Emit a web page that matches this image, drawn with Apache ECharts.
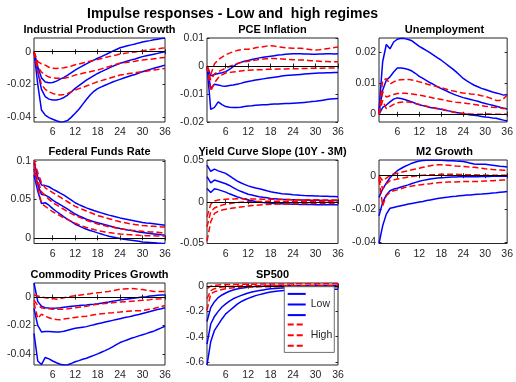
<!DOCTYPE html>
<html><head><meta charset="utf-8">
<script src="https://cdn.jsdelivr.net/npm/echarts@6/dist/echarts.min.js"></script>
<style>html,body{margin:0;padding:0;background:#fff}#c{width:516px;height:382px}</style>
</head><body><div id="c"></div>
<script>
const horizons = [1,2,3,4,5,6,7,8,9,10,11,12,13,14,15,16,17,18,19,20,21,22,23,24,25,26,27,28,29,30,31,32,33,34,35,36];
const xTicks = [6,12,18,24,30,36];
const mainTitle = 'Impulse responses - Low and  high regimes';
const panelTitles = ['Industrial Production Growth','PCE Inflation','Unemployment','Federal Funds Rate','Yield Curve Slope (10Y - 3M)','M2 Growth','Commodity Prices Growth','SP500'];
const yTicks = [[-0.04,-0.02,0],[-0.02,-0.01,0,0.01],[0,0.01,0.02],[0,0.05,0.1],[-0.05,0,0.05],[-0.04,-0.02,0],[-0.04,-0.02,0],[-0.6,-0.4,-0.2,0]];
const yRanges = [[-0.043,0.0084],[-0.02,0.01],[-0.0025,0.0247],[-0.0073,0.1013],[-0.05,0.05],[-0.0406,0.0094],[-0.0478,0.0099],[-0.625,0.025]];
const seriesNames = ['Low band upper','Low','Low band lower','High band upper','High','High band lower'];

// Industrial Production Growth
const ipLowUp = [0,-0.009,-0.016,-0.0185,-0.019,-0.0188,-0.018,-0.0168,-0.0157,-0.0143,-0.0128,-0.0112,-0.0099,-0.0086,-0.0074,-0.0062,-0.0051,-0.004,-0.003,-0.0019,-0.0008,0.0004,0.0014,0.0024,0.003,0.0036,0.0042,0.0047,0.0054,0.006,0.0064,0.0068,0.0073,0.0077,0.0081,0.0084];
const ipLowMed = [0,-0.012,-0.023,-0.0275,-0.029,-0.0295,-0.0295,-0.029,-0.028,-0.0265,-0.0245,-0.0224,-0.0207,-0.019,-0.0174,-0.016,-0.0146,-0.0133,-0.0122,-0.0111,-0.01,-0.009,-0.008,-0.0071,-0.0064,-0.0057,-0.005,-0.0044,-0.0037,-0.003,-0.0025,-0.002,-0.0015,-0.001,-0.0005,0];
const ipLowLo = [0,-0.02,-0.0357,-0.0388,-0.0403,-0.0413,-0.0422,-0.043,-0.0428,-0.042,-0.04,-0.0377,-0.0352,-0.0322,-0.0292,-0.0265,-0.0242,-0.0226,-0.0215,-0.0205,-0.0195,-0.0185,-0.0177,-0.0169,-0.0161,-0.0153,-0.0146,-0.0139,-0.013,-0.0122,-0.0115,-0.0108,-0.0101,-0.0095,-0.0089,-0.0082];
const ipHighUp = [0,-0.006,-0.0075,-0.0082,-0.0095,-0.0101,-0.0103,-0.0101,-0.0098,-0.0093,-0.0087,-0.008,-0.0075,-0.0069,-0.0064,-0.0058,-0.0052,-0.0047,-0.0041,-0.0035,-0.003,-0.0025,-0.002,-0.0014,-0.0011,-0.0007,-0.0004,-0.0001,0.0003,0.0006,0.0009,0.0012,0.0015,0.0018,0.0021,0.0024];
const ipHighMed = [0,-0.009,-0.0125,-0.0143,-0.0155,-0.016,-0.0162,-0.0163,-0.0162,-0.0158,-0.0151,-0.0143,-0.0138,-0.0132,-0.0127,-0.0122,-0.0117,-0.0112,-0.0105,-0.0098,-0.0091,-0.0084,-0.0077,-0.0071,-0.0068,-0.0064,-0.0061,-0.0058,-0.0054,-0.0051,-0.0048,-0.0046,-0.0043,-0.004,-0.0037,-0.0035];
const ipHighLo = [0,-0.012,-0.02,-0.023,-0.0245,-0.0255,-0.0262,-0.0265,-0.0262,-0.0255,-0.0245,-0.0235,-0.0226,-0.0218,-0.021,-0.0201,-0.0192,-0.0184,-0.0177,-0.017,-0.0163,-0.0156,-0.0149,-0.0143,-0.0139,-0.0135,-0.0131,-0.0128,-0.0125,-0.0122,-0.0119,-0.0115,-0.0112,-0.0109,-0.0105,-0.0102];

// PCE Inflation
const pceLowUp = [0,-0.0035,-0.003,-0.0027,-0.0024,-0.002,-0.0012,-0.0002,0.0008,0.0013,0.0017,0.002,0.0023,0.0026,0.0029,0.0031,0.0033,0.0035,0.0037,0.0039,0.004,0.0042,0.0043,0.0044,0.0044,0.0044,0.0043,0.0043,0.0042,0.0042,0.0043,0.0043,0.0044,0.0044,0.0043,0.0044];
const pceLowMed = [0,-0.008,-0.0065,-0.0068,-0.0071,-0.0072,-0.007,-0.0068,-0.0065,-0.0062,-0.0058,-0.0055,-0.0053,-0.005,-0.0048,-0.0046,-0.0044,-0.0042,-0.004,-0.0038,-0.0036,-0.0034,-0.0033,-0.0032,-0.0031,-0.003,-0.0029,-0.0028,-0.0027,-0.0026,-0.0025,-0.0025,-0.0024,-0.0024,-0.0023,-0.0023];
const pceLowLo = [0,-0.0155,-0.0148,-0.0128,-0.0138,-0.0145,-0.0147,-0.0148,-0.0148,-0.0147,-0.0145,-0.0143,-0.0142,-0.014,-0.0139,-0.0138,-0.0138,-0.0137,-0.0136,-0.0136,-0.0135,-0.0134,-0.0134,-0.0133,-0.0132,-0.0131,-0.013,-0.0129,-0.0127,-0.0126,-0.0124,-0.0122,-0.012,-0.0118,-0.0117,-0.0116];
const pceHighUp = [0,-0.003,0.0008,0.0022,0.0032,0.004,0.0046,0.0051,0.0055,0.0058,0.006,0.006,0.0062,0.0065,0.0067,0.0069,0.0071,0.0072,0.0071,0.0069,0.0067,0.0065,0.0064,0.0063,0.0063,0.0063,0.0062,0.006,0.0058,0.0057,0.0058,0.006,0.0062,0.0064,0.0066,0.0068];
const pceHighMed = [0,-0.005,-0.0028,-0.002,-0.0014,-0.0008,-0.0002,0.0003,0.0008,0.0012,0.0015,0.0017,0.0019,0.0021,0.0023,0.0025,0.0026,0.0027,0.0027,0.0026,0.0025,0.0024,0.0023,0.0022,0.0022,0.0021,0.0021,0.002,0.0019,0.0018,0.0017,0.0016,0.0016,0.0015,0.0015,0.0015];
const pceHighLo = [0,-0.009,-0.006,-0.0042,-0.0032,-0.0025,-0.0023,-0.0021,-0.002,-0.0018,-0.0016,-0.0015,-0.0014,-0.0014,-0.0013,-0.0013,-0.0012,-0.0012,-0.0012,-0.0011,-0.0011,-0.0011,-0.001,-0.001,-0.001,-0.0009,-0.0009,-0.0009,-0.0008,-0.0008,-0.0008,-0.0008,-0.0007,-0.0007,-0.0007,-0.0007];

// Unemployment
const unLowUp = [0.0013,0.017,0.0226,0.0212,0.0234,0.0243,0.0246,0.0245,0.0242,0.0238,0.0229,0.022,0.0213,0.0206,0.0199,0.0191,0.0183,0.0175,0.0166,0.0157,0.0148,0.0138,0.0127,0.0116,0.0108,0.0101,0.0094,0.0089,0.0084,0.008,0.0076,0.0072,0.0069,0.0066,0.0062,0.0064];
const unLowMed = [0.0005,0.0078,0.011,0.0121,0.0137,0.015,0.015,0.0148,0.0145,0.014,0.0132,0.0123,0.0116,0.0109,0.0102,0.0096,0.0089,0.0083,0.0078,0.0072,0.0067,0.0062,0.0058,0.0054,0.0051,0.0048,0.0045,0.0042,0.0038,0.0035,0.0032,0.0029,0.0026,0.0023,0.002,0.0017];
const unLowLo = [0,0.0022,0.003,0.004,0.0049,0.0053,0.0051,0.0048,0.0044,0.004,0.0035,0.0031,0.0028,0.0025,0.0022,0.002,0.0018,0.0016,0.0013,0.0011,0.0008,0.0006,0.0004,0.0002,0,-0.0002,-0.0003,-0.0005,-0.0007,-0.0009,-0.001,-0.0012,-0.0013,-0.0016,-0.0019,-0.0022];
const unHighUp = [0,0.011,0.0115,0.0098,0.0105,0.011,0.0112,0.0113,0.0113,0.0111,0.0108,0.0105,0.0102,0.0098,0.0095,0.0092,0.0089,0.0086,0.0083,0.0079,0.0076,0.0074,0.0071,0.0069,0.0068,0.0066,0.0065,0.0063,0.006,0.0058,0.0054,0.005,0.0045,0.0045,0.005,0.0062];
const unHighMed = [0,0.0072,0.0056,0.006,0.0064,0.0067,0.0068,0.0068,0.0067,0.0066,0.0064,0.0062,0.006,0.0057,0.0055,0.0052,0.005,0.0048,0.0046,0.0043,0.0041,0.0039,0.0038,0.0037,0.0035,0.0034,0.0032,0.003,0.0028,0.0026,0.0025,0.0023,0.0022,0.0021,0.0019,0.0018];
const unHighLo = [0,0.0045,0.0018,0.0025,0.0032,0.0037,0.0039,0.004,0.004,0.0038,0.0035,0.0032,0.0029,0.0026,0.0023,0.0021,0.0019,0.0017,0.0014,0.0011,0.0008,0.0006,0.0004,0.0003,0.0002,0.0001,0,0,0,0.0001,0.0001,0,0,0,0,0];

// Federal Funds Rate
const ffrLowUp = [0.098,0.0796,0.0687,0.068,0.0665,0.0635,0.061,0.0583,0.0557,0.0523,0.049,0.0457,0.0433,0.0411,0.039,0.0373,0.0356,0.034,0.0325,0.031,0.0296,0.0284,0.0272,0.026,0.025,0.024,0.023,0.022,0.021,0.02,0.0194,0.0189,0.0183,0.0177,0.0171,0.0165];
const ffrLowMed = [0.09,0.0696,0.0565,0.0557,0.053,0.0491,0.046,0.0432,0.0404,0.0373,0.0341,0.031,0.0287,0.0265,0.0243,0.0227,0.0211,0.0196,0.0183,0.017,0.0157,0.0145,0.0133,0.0122,0.0113,0.0104,0.0096,0.0087,0.0078,0.007,0.0064,0.0058,0.0052,0.0046,0.004,0.0035];
const ffrLowLo = [0.082,0.061,0.0448,0.0457,0.0425,0.038,0.0343,0.0308,0.0274,0.0242,0.021,0.0178,0.0156,0.0134,0.0113,0.0097,0.0081,0.0065,0.0051,0.0036,0.0022,0.0012,0.0001,-0.0009,-0.0017,-0.0024,-0.0031,-0.0038,-0.0045,-0.0052,-0.0056,-0.006,-0.0064,-0.0068,-0.0071,-0.0073];
const ffrHighUp = [0.1013,0.085,0.072,0.065,0.062,0.059,0.056,0.053,0.05,0.047,0.044,0.041,0.039,0.037,0.035,0.033,0.031,0.029,0.0277,0.0263,0.025,0.0237,0.0223,0.021,0.02,0.019,0.018,0.0173,0.0167,0.016,0.0157,0.0153,0.015,0.0147,0.0143,0.014];
const ffrHighMed = [0.095,0.075,0.06,0.055,0.05,0.046,0.043,0.04,0.037,0.034,0.0315,0.029,0.027,0.025,0.023,0.0213,0.0197,0.018,0.0168,0.0157,0.0145,0.0137,0.0128,0.012,0.0113,0.0107,0.01,0.0095,0.009,0.0085,0.0082,0.0078,0.0075,0.0072,0.0068,0.0065];
const ffrHighLo = [0.088,0.066,0.045,0.041,0.0375,0.034,0.0313,0.0287,0.026,0.0237,0.0213,0.019,0.0172,0.0153,0.0135,0.0122,0.0108,0.0095,0.0087,0.0078,0.007,0.0063,0.0057,0.005,0.0047,0.0043,0.004,0.0037,0.0033,0.003,0.0029,0.0028,0.0027,0.0026,0.0026,0.0025];

// Yield Curve Slope
const ycLowUp = [0.044,0.0365,0.039,0.037,0.0355,0.034,0.031,0.028,0.025,0.0228,0.0208,0.019,0.0177,0.0165,0.0155,0.0143,0.0131,0.012,0.0112,0.0104,0.0097,0.0093,0.0089,0.0085,0.0082,0.0078,0.0075,0.0073,0.0072,0.007,0.0068,0.0067,0.0065,0.0063,0.0062,0.006];
const ycLowMed = [0.03,0.0225,0.026,0.0245,0.023,0.0215,0.0195,0.017,0.0145,0.0125,0.0107,0.009,0.008,0.007,0.006,0.0053,0.0047,0.004,0.0037,0.0033,0.003,0.0028,0.0027,0.0025,0.0023,0.0022,0.002,0.0019,0.0019,0.0018,0.0017,0.0016,0.0015,0.0014,0.0014,0.0013];
const ycLowLo = [0.016,0.011,0.0155,0.0145,0.013,0.0115,0.0095,0.0077,0.006,0.0046,0.0033,0.002,0.0012,0.0003,-0.0005,-0.001,-0.0014,-0.0018,-0.002,-0.0023,-0.0025,-0.0027,-0.0028,-0.003,-0.0031,-0.0032,-0.0033,-0.0034,-0.0034,-0.0035,-0.0035,-0.0035,-0.0036,-0.0036,-0.0036,-0.0036];
const ycHighUp = [-0.018,-0.003,0.001,0.002,0.0025,0.003,0.0032,0.0034,0.0035,0.0035,0.0035,0.0035,0.0034,0.0033,0.0032,0.0031,0.003,0.003,0.0029,0.0028,0.0027,0.0026,0.0025,0.0025,0.0025,0.0025,0.0025,0.0025,0.0024,0.0024,0.0023,0.0022,0.0022,0.0021,0.002,0.002];
const ycHighMed = [-0.03,-0.012,-0.0075,-0.0055,-0.004,-0.003,-0.0023,-0.0016,-0.001,-0.0006,-0.0003,0,0.0001,0.0002,0.0003,0.0004,0.0005,0.0005,0.0005,0.0005,0.0005,0.0005,0.0005,0.0005,0.0005,0.0005,0.0005,0.0005,0.0005,0.0005,0.0005,0.0005,0.0005,0.0005,0.0005,0.0005];
const ycHighLo = [-0.047,-0.024,-0.014,-0.0115,-0.01,-0.009,-0.0083,-0.0076,-0.007,-0.0063,-0.0057,-0.005,-0.0046,-0.0042,-0.0038,-0.0035,-0.0032,-0.003,-0.0029,-0.0028,-0.0027,-0.0026,-0.0025,-0.0025,-0.0024,-0.0023,-0.0023,-0.0022,-0.0021,-0.002,-0.002,-0.002,-0.002,-0.002,-0.002,-0.002];

// M2 Growth
const m2LowUp = [-0.013,-0.008,-0.0045,-0.0012,0.001,0.003,0.0043,0.0055,0.0065,0.0075,0.0082,0.0088,0.0091,0.0093,0.0093,0.0093,0.0092,0.0092,0.0091,0.009,0.009,0.0088,0.0087,0.0085,0.008,0.0075,0.007,0.0069,0.0068,0.0068,0.0066,0.0063,0.006,0.0057,0.0055,0.0052];
const m2LowMed = [-0.024,-0.016,-0.0115,-0.009,-0.008,-0.0075,-0.0068,-0.0061,-0.0055,-0.0047,-0.004,-0.0033,-0.0028,-0.0024,-0.002,-0.0017,-0.0014,-0.0012,-0.0011,-0.0009,-0.0008,-0.0008,-0.0007,-0.0007,-0.0007,-0.0006,-0.0006,-0.0006,-0.0005,-0.0005,-0.0005,-0.0004,-0.0004,-0.0004,-0.0003,-0.0003];
const m2LowLo = [-0.0406,-0.03,-0.023,-0.0195,-0.019,-0.0185,-0.018,-0.0175,-0.017,-0.0166,-0.0162,-0.0158,-0.0154,-0.0149,-0.0145,-0.0141,-0.0137,-0.0133,-0.013,-0.0128,-0.0125,-0.0123,-0.012,-0.0118,-0.0116,-0.0115,-0.0113,-0.0111,-0.011,-0.0108,-0.0106,-0.0104,-0.0102,-0.0099,-0.0097,-0.0095];
const m2HighUp = [0,-0.003,-0.0015,0,0.001,0.0015,0.002,0.0025,0.003,0.0035,0.004,0.0045,0.005,0.0055,0.006,0.0063,0.0065,0.0065,0.0064,0.0062,0.006,0.0058,0.0057,0.0055,0.0053,0.0052,0.005,0.0047,0.0045,0.0042,0.004,0.0037,0.0035,0.0034,0.0033,0.0032];
const m2HighMed = [-0.001,-0.008,-0.005,-0.003,-0.0025,-0.002,-0.0016,-0.0012,-0.0008,-0.0005,-0.0002,0,0.0002,0.0004,0.0005,0.0006,0.0007,0.0008,0.0008,0.0008,0.0008,0.0008,0.0007,0.0007,0.0006,0.0006,0.0005,0.0004,0.0004,0.0003,0.0003,0.0002,0.0002,0.0002,0.0002,0.0002];
const m2HighLo = [-0.002,-0.018,-0.012,-0.01,-0.009,-0.0085,-0.0078,-0.0071,-0.0065,-0.0062,-0.0058,-0.0055,-0.0052,-0.005,-0.0048,-0.0045,-0.0042,-0.004,-0.0039,-0.0038,-0.0038,-0.0037,-0.0036,-0.0035,-0.0035,-0.0035,-0.0035,-0.0034,-0.0033,-0.0032,-0.0031,-0.003,-0.0028,-0.0027,-0.0026,-0.0025];

// Commodity Prices Growth
const comLowUp = [0.0099,-0.003,-0.0065,-0.0075,-0.0077,-0.0078,-0.0077,-0.0075,-0.0071,-0.0068,-0.0065,-0.0062,-0.006,-0.0057,-0.0055,-0.0052,-0.005,-0.0047,-0.0043,-0.0039,-0.0035,-0.003,-0.0025,-0.002,-0.0017,-0.0013,-0.001,-0.0007,-0.0003,0,0.0003,0.0007,0.001,0.0012,0.0014,0.0015];
const comLowMed = [-0.008,-0.02,-0.0245,-0.0242,-0.0243,-0.0244,-0.0245,-0.0245,-0.024,-0.0233,-0.0226,-0.022,-0.0216,-0.0212,-0.0208,-0.0201,-0.0195,-0.0188,-0.0182,-0.0176,-0.017,-0.0164,-0.0158,-0.0152,-0.0146,-0.0141,-0.0135,-0.0128,-0.0122,-0.0115,-0.0108,-0.0102,-0.0095,-0.0088,-0.0082,-0.0075];
const comLowLo = [-0.0255,-0.045,-0.0475,-0.0425,-0.0435,-0.045,-0.0462,-0.0473,-0.0478,-0.0476,-0.0467,-0.0455,-0.0447,-0.0438,-0.043,-0.042,-0.041,-0.04,-0.0388,-0.0377,-0.0365,-0.035,-0.0335,-0.032,-0.031,-0.03,-0.029,-0.0282,-0.0273,-0.0265,-0.0257,-0.0248,-0.024,-0.0228,-0.0217,-0.0205];
const comHighUp = [0.0015,0.0008,0,-0.0005,-0.0008,-0.001,-0.0015,-0.001,-0.0005,0,0.0005,0.001,0.0013,0.0017,0.002,0.0023,0.0027,0.003,0.0033,0.0037,0.004,0.0045,0.005,0.0055,0.0057,0.0059,0.006,0.0058,0.0055,0.0053,0.0048,0.0044,0.004,0.004,0.004,0.004];
const comHighMed = [-0.002,-0.006,-0.0075,-0.008,-0.0083,-0.0085,-0.0085,-0.0085,-0.0085,-0.0082,-0.0078,-0.0075,-0.0072,-0.0068,-0.0065,-0.006,-0.0055,-0.005,-0.0047,-0.0045,-0.0042,-0.004,-0.0037,-0.0035,-0.0033,-0.0032,-0.003,-0.0028,-0.0025,-0.0023,-0.002,-0.0018,-0.0015,-0.0013,-0.0012,-0.001];
const comHighLo = [-0.004,-0.015,-0.012,-0.0135,-0.0145,-0.0155,-0.0158,-0.016,-0.0155,-0.015,-0.0147,-0.0143,-0.014,-0.0137,-0.0135,-0.013,-0.0125,-0.012,-0.0117,-0.0115,-0.0112,-0.011,-0.0107,-0.0105,-0.0102,-0.01,-0.0098,-0.0097,-0.0096,-0.0095,-0.009,-0.0085,-0.008,-0.0073,-0.0067,-0.006];

// SP500
const spLowUp = [-0.28,-0.17,-0.123,-0.09,-0.07,-0.054,-0.04,-0.03,-0.022,-0.016,-0.012,-0.008,-0.005,-0.003,-0.001,0,0.001,0.002,0.002,0.003,0.003,0.003,0.004,0.004,0.004,0.004,0.004,0.005,0.005,0.005,0.005,0.005,0.005,0.005,0.005,0.005];
const spLowMed = [-0.46,-0.3,-0.24,-0.2,-0.165,-0.14,-0.118,-0.1,-0.087,-0.075,-0.064,-0.055,-0.047,-0.04,-0.035,-0.03,-0.025,-0.021,-0.018,-0.016,-0.014,-0.012,-0.011,-0.01,-0.009,-0.008,-0.0075,-0.007,-0.0065,-0.006,-0.0057,-0.0054,-0.005,-0.0047,-0.0044,-0.004];
const spLowLo = [-0.625,-0.44,-0.35,-0.305,-0.26,-0.22,-0.195,-0.17,-0.145,-0.125,-0.11,-0.097,-0.086,-0.075,-0.067,-0.06,-0.053,-0.047,-0.043,-0.039,-0.036,-0.033,-0.031,-0.029,-0.028,-0.027,-0.027,-0.026,-0.026,-0.026,-0.025,-0.025,-0.025,-0.025,-0.025,-0.025];
const spHighUp = [-0.02,0,0.006,0.009,0.011,0.012,0.013,0.014,0.014,0.015,0.015,0.016,0.016,0.016,0.017,0.017,0.017,0.017,0.018,0.018,0.018,0.018,0.018,0.019,0.019,0.019,0.019,0.019,0.019,0.02,0.02,0.02,0.02,0.02,0.02,0.02];
const spHighMed = [-0.1,-0.035,-0.02,-0.012,-0.007,-0.004,-0.002,0,0.001,0.002,0.003,0.003,0.004,0.004,0.004,0.005,0.005,0.005,0.005,0.005,0.005,0.005,0.005,0.005,0.006,0.006,0.006,0.006,0.006,0.006,0.006,0.006,0.006,0.006,0.006,0.006];
const spHighLo = [-0.19,-0.06,-0.045,-0.035,-0.027,-0.02,-0.016,-0.013,-0.011,-0.009,-0.008,-0.007,-0.006,-0.006,-0.005,-0.005,-0.005,-0.004,-0.004,-0.004,-0.004,-0.004,-0.004,-0.004,-0.004,-0.004,-0.004,-0.004,-0.004,-0.004,-0.004,-0.004,-0.004,-0.004,-0.004,-0.004];

const panels = [
  [ipLowUp, ipLowMed, ipLowLo, ipHighUp, ipHighMed, ipHighLo],
  [pceLowUp, pceLowMed, pceLowLo, pceHighUp, pceHighMed, pceHighLo],
  [unLowUp, unLowMed, unLowLo, unHighUp, unHighMed, unHighLo],
  [ffrLowUp, ffrLowMed, ffrLowLo, ffrHighUp, ffrHighMed, ffrHighLo],
  [ycLowUp, ycLowMed, ycLowLo, ycHighUp, ycHighMed, ycHighLo],
  [m2LowUp, m2LowMed, m2LowLo, m2HighUp, m2HighMed, m2HighLo],
  [comLowUp, comLowMed, comLowLo, comHighUp, comHighMed, comHighLo],
  [spLowUp, spLowMed, spLowLo, spHighUp, spHighMed, spHighLo]
];

const FONT = '"Liberation Sans", Arial, Helvetica, sans-serif';
const colLeft = [34, 207, 379];
const colWidth = 131;
const rowTop = [38, 160, 283];
const rowHeight = [84, 83.5, 82];
const axisColor = '#262626';

const grids = [], xAxes = [], yAxes = [], series = [], graphics = [];
graphics.push({type:'text', x: 232.5, y: 14.5, style:{text: mainTitle, font: 'bold 14px ' + FONT, fill:'#000', textAlign:'center', textVerticalAlign:'middle'}});

panels.forEach((p, i) => {
  const r = Math.floor(i / 3), c = i % 3;
  const L = colLeft[c], T = rowTop[r], W = colWidth, H = rowHeight[r];
  grids.push({left: L, top: T, width: W, height: H, show: true, borderColor: axisColor, borderWidth: 1, backgroundColor: 'transparent', containLabel: false});
  graphics.push({type:'text', x: L + W / 2, y: T - 8, style:{text: panelTitles[i], font: 'bold 11px ' + FONT, fill:'#000', textAlign:'center', textVerticalAlign:'middle'}});
  const xBase = {type:'value', gridIndex: i, min: 1, max: 36, splitLine:{show:false}, axisLine:{show:false}};
  xAxes.push(Object.assign({}, xBase, {position:'bottom',
    axisTick:{show:true, inside:true, length:2.5, customValues: xTicks, lineStyle:{color: axisColor}},
    axisLabel:{show:true, customValues: xTicks, fontSize: 10.5, color: axisColor, fontFamily: FONT, margin: 5}}));
  xAxes.push(Object.assign({}, xBase, {position:'top',
    axisTick:{show:true, inside:true, length:2.5, customValues: xTicks, lineStyle:{color: axisColor}},
    axisLabel:{show:false}}));
  const yBase = {type:'value', gridIndex: i, min: yRanges[i][0], max: yRanges[i][1], splitLine:{show:false}, axisLine:{show:false}};
  yAxes.push(Object.assign({}, yBase, {position:'left',
    axisTick:{show:true, inside:true, length:2.5, customValues: yTicks[i], lineStyle:{color: axisColor}},
    axisLabel:{show:true, customValues: yTicks[i], fontSize: 10.5, color: axisColor, fontFamily: FONT, margin: 3}}));
  yAxes.push(Object.assign({}, yBase, {position:'right',
    axisTick:{show:true, inside:true, length:2.5, customValues: yTicks[i], lineStyle:{color: axisColor}},
    axisLabel:{show:false}}));
  p.forEach((arr, k) => {
    const isLow = k < 3;
    const s = {
      type:'line', name: seriesNames[k], xAxisIndex: 2*i, yAxisIndex: 2*i,
      data: horizons.map((h, j) => [h, arr[j]]),
      symbol:'none', showSymbol:false, animation:false, silent:true, clip:true,
      lineStyle:{color: isLow ? '#0000ff' : '#ff0000', width: 1.5, type: isLow ? 'solid' : [6,3]},
      itemStyle:{color: isLow ? '#0000ff' : '#ff0000'},
      z: isLow ? 3 : 4
    };
    if (k === 0) {
      s.markLine = {silent:true, symbol:['none','none'], animation:false, label:{show:false},
        lineStyle:{color:'#000', width:1, type:'solid'}, data:[{yAxis:0}]};
    }
    series.push(s);
  });
});

const chart = echarts.init(document.getElementById('c'), null, {renderer:'canvas'});
chart.setOption({
  backgroundColor:'#fff',
  animation:false,
  grid: grids, xAxis: xAxes, yAxis: yAxes, series: series,
  graphic: graphics,
  legend: {
    orient:'vertical', left: 284.3, top: 286.7,
    data: seriesNames,
    formatter: n => (n === 'Low' || n === 'High') ? n : '',
    itemWidth: 18, itemHeight: 11, itemGap: 0.7,
    padding: [2.8, 2, 2.2, 2.4],
    itemStyle: {opacity: 0, color: 'transparent', borderWidth: 0},
    backgroundColor:'#fff', borderColor:'#6e6e6e', borderWidth: 1,
    textStyle:{fontSize: 10.5, color: axisColor, fontFamily: FONT, lineHeight: 11},
    selectedMode: false, z: 10
  }
});
</script></body></html>
